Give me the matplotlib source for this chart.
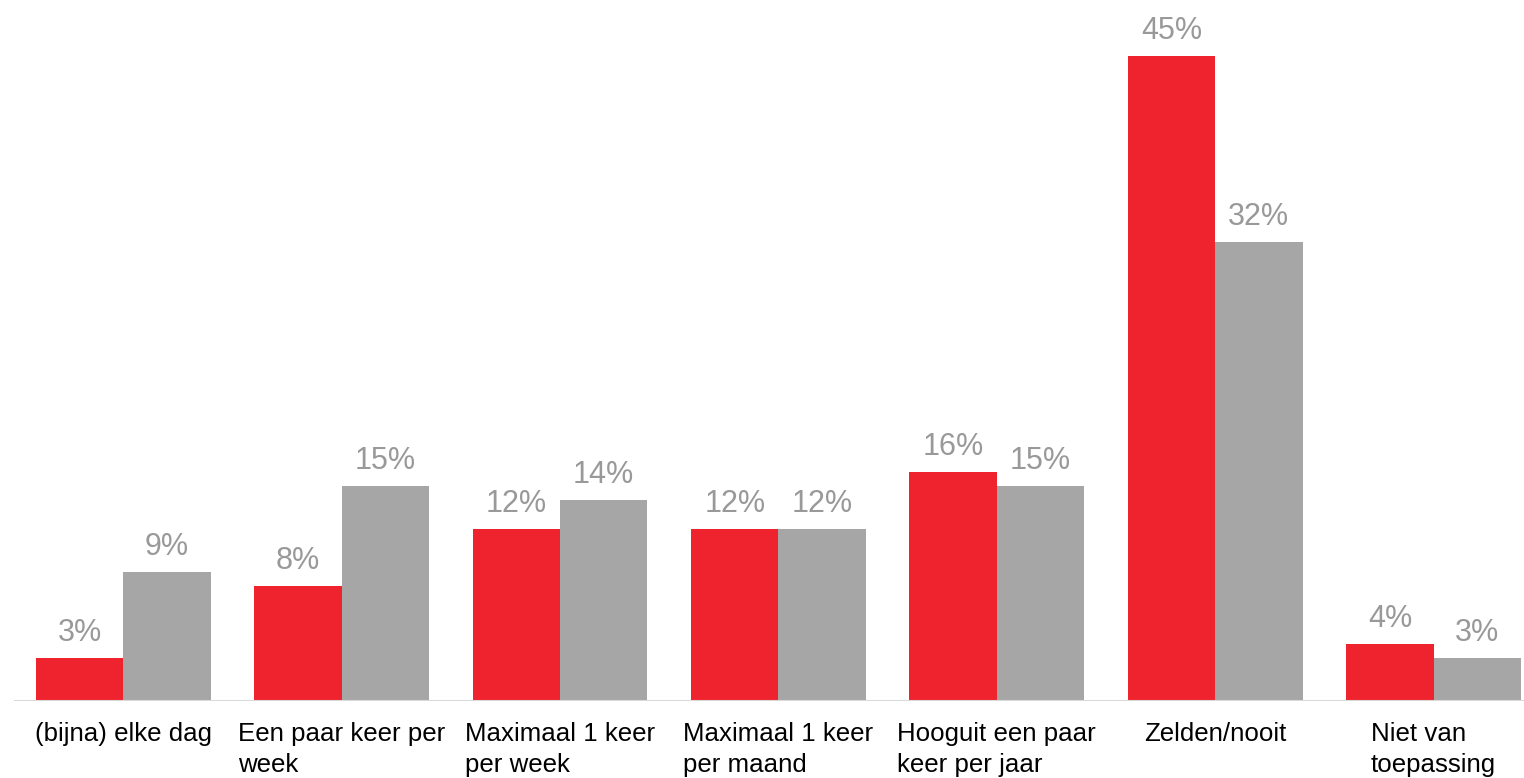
import numpy as np
import matplotlib.pyplot as plt

plt.rcParams['font.family'] = ['Liberation Sans', 'DejaVu Sans']

categories = ["(bijna) elke dag", "Een paar keer per\nweek", "Maximaal 1 keer\nper week",
              "Maximaal 1 keer\nper maand", "Hooguit een paar\nkeer per jaar", "Zelden/nooit",
              "Niet van\ntoepassing"]
red_vals = [3, 8, 12, 12, 16, 45, 4]
gray_vals = [9, 15, 14, 12, 15, 32, 3]

RED = "#EE232E"
GRAY = "#A6A6A6"
LABEL = "#999999"

W, H = 1524, 778
fig = plt.figure(figsize=(W / 100, H / 100), dpi=100)
px_per_cat = 218.4
ax = fig.add_axes([14 / W, 77 / H, (W - 14) / W, 701 / H])

x = np.arange(len(categories))
bw = 0.4
ax.bar(x - bw / 2, red_vals, bw, color=RED, linewidth=0)
ax.bar(x + bw / 2, gray_vals, bw, color=GRAY, linewidth=0)

for xi, v in zip(x - bw / 2, red_vals):
    ax.annotate(f"{v}%", (xi, v), xytext=(0, 10), textcoords="offset pixels",
                ha="center", va="bottom", fontsize=22, color=LABEL)
for xi, v in zip(x + bw / 2, gray_vals):
    ax.annotate(f"{v}%", (xi, v), xytext=(0, 10), textcoords="offset pixels",
                ha="center", va="bottom", fontsize=22, color=LABEL)

for xi, lab in zip(x, categories):
    ax.annotate(lab, (xi, 0), xytext=(0, -21), textcoords="offset pixels",
                ha="center", va="top", multialignment="left", fontsize=18.6,
                color="black", linespacing=1.37, annotation_clip=False)

ax.axhline(0, color="#D9D9D9", lw=1.5)
ax.set_xlim(-0.5, -0.5 + (W - 14) / px_per_cat)
ax.set_ylim(0, 701 / 14.333)
ax.axis("off")

fig.savefig("out.png", dpi=100)
